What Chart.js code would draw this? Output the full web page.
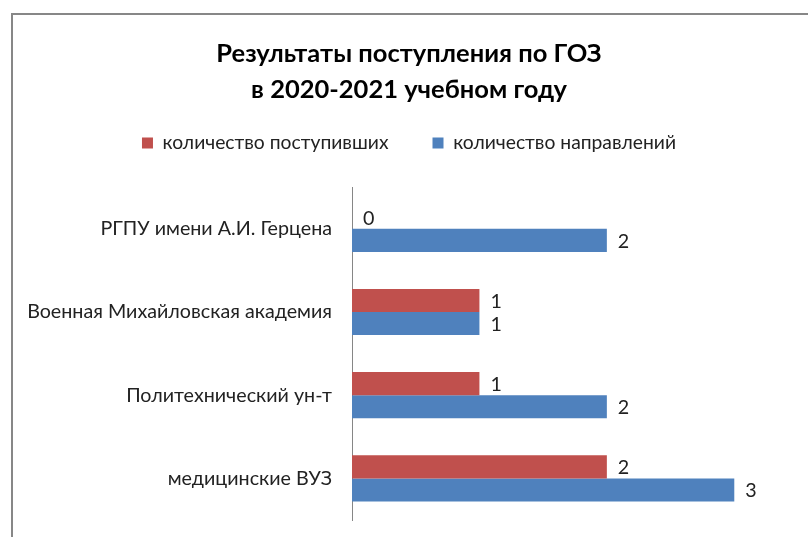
<!DOCTYPE html>
<html>
<head>
<meta charset="utf-8">
<script src="https://cdn.jsdelivr.net/npm/chart.js@4"></script>
<style>
    html, body {margin: 0; padding: 0; background: #fff;}
    #wrap {position: relative; width: 808px; height: 537px; overflow: hidden;}
    #frame {position: absolute; left: 11px; top: 13px; width: 900px; height: 600px; border: 2px solid #878787; pointer-events: none;}
</style>
</head>
<body>
<div id="wrap">
    <canvas id="myChart" width="808" height="537"></canvas>
    <div id="frame"></div>
</div>
<script>
    const categories = ['РГПУ имени А.И. Герцена', 'Военная Михайловская академия', 'Политехнический ун-т', 'медицинские ВУЗ'];
    const admitted = [0, 1, 1, 2];
    const referrals = [2, 1, 2, 3];
    const seriesNames = ['количество поступивших', 'количество направлений'];
    const titleLines = ['Результаты поступления по ГОЗ', 'в 2020-2021 учебном году'];

    const fontFamily = 'Lato, "Open Sans", sans-serif';

    // подписи значений справа от столбцов
    const valueLabels = {
        id: 'valueLabels',
        afterDatasetsDraw: function (chart) {
            const c = chart.ctx;
            c.save();
            c.font = '19.7px ' + fontFamily;
            c.fillStyle = '#222';
            c.textAlign = 'left';
            c.textBaseline = 'middle';
            chart.data.datasets.forEach(function (ds, i) {
                chart.getDatasetMeta(i).data.forEach(function (bar, j) {
                    c.fillText(ds.data[j], bar.x + 11, bar.y + 1);
                });
            });
            c.restore();
        }
    };

    new Chart(document.getElementById('myChart'), {
        type: 'bar',
        plugins: [valueLabels],
        data: {
            labels: categories,
            datasets: [
                {label: seriesNames[0], data: admitted, backgroundColor: '#C0504D'},
                {label: seriesNames[1], data: referrals, backgroundColor: '#4F81BD'}
            ]
        },
        options: {
            indexAxis: 'y',
            responsive: false,
            animation: false,
            layout: {padding: {left: 20, right: 10, top: 0, bottom: 17}},
            datasets: {bar: {categoryPercentage: 0.555, barPercentage: 1}},
            plugins: {
                title: {
                    display: true,
                    text: titleLines,
                    color: '#000',
                    font: {family: fontFamily, size: 25.5, weight: 'bold', lineHeight: 1.41},
                    padding: {top: 35.5, bottom: -18}
                },
                legend: {
                    labels: {
                        color: '#222',
                        font: {family: fontFamily, size: 19.3},
                        boxWidth: 11, boxHeight: 11,
                        padding: 44
                    }
                },
                tooltip: {enabled: false}
            },
            scales: {
                x: {
                    position: 'top',
                    min: 0, max: 3.5,
                    ticks: {display: false},
                    grid: {display: false},
                    border: {display: false},
                    afterFit: function (s) { s.height = 24.5; }
                },
                y: {
                    ticks: {color: '#222', font: {family: fontFamily, size: 19.7}, padding: 12},
                    grid: {display: false},
                    border: {display: true, color: '#868686', width: 1},
                    afterFit: function (s) {
                        s.width = 332;
                        s.paddingTop = 0;
                        s.paddingBottom = 0;
                    }
                }
            }
        }
    });
</script>
</body>
</html>
